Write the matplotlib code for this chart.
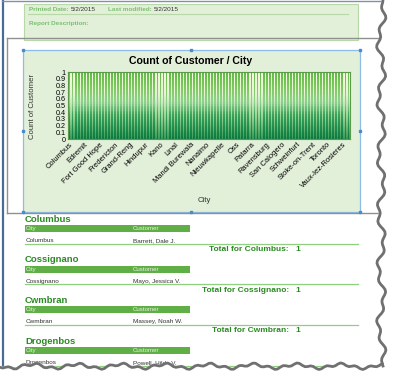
import numpy as np
import matplotlib
matplotlib.use("Agg")
import matplotlib.pyplot as plt
from matplotlib.colors import LinearSegmentedColormap
from matplotlib.patches import Rectangle

plt.rcParams["font.family"] = ["Liberation Sans", "DejaVu Sans"]

# chart data: one customer per city, 93 cities, every 5th city labelled
tick_labels = ["Columbus", "Edremit", "Fort Good Hope", "Fredericton", "Grand-Reng",
               "Hindupur", "Kano", "Linal", "Mandi Burewala", "Nanaimo",
               "Nieuwkapelle", "Oss", "Patarra", "Ravensburg", "San Calogero",
               "Schweinfurt", "Stoke-on-Trent", "Toronto", "Vaux-lez-Rosieres"]
label_step = 5
counts = [1, 1, 1, 1, 1, 1, 1, 1, 1, 1,
          1, 1, 1, 1, 1, 1, 1, 1, 1, 1,
          1, 1, 1, 1, 1, 1, 1, 1, 1, 1,
          1, 1, 1, 1, 1, 1, 1, 1, 1, 1,
          1, 1, 1, 1, 1, 1, 1, 1, 1, 1,
          1, 1, 1, 1, 1, 1, 1, 1, 1, 1,
          1, 1, 1, 1, 1, 1, 1, 1, 1, 1,
          1, 1, 1, 1, 1, 1, 1, 1, 1, 1,
          1, 1, 1, 1, 1, 1, 1, 1, 1, 1,
          1, 1, 1]
y_ticks = [0, 0.1, 0.2, 0.3, 0.4, 0.5, 0.6, 0.7, 0.8, 0.9, 1]

# report groups below the chart
groups = ["Columbus", "Cossignano", "Cwmbran", "Drogenbos"]
customers = ["Barrett, Dale J.", "Mayo, Jessica V.", "Massey, Noah W.", "Powell, Hilda V."]
group_totals = [1, 1, 1, 1]

W, H = 397, 384
fig = plt.figure(figsize=(W / 100, H / 100), dpi=100)
page = fig.add_axes([0, 0, 1, 1])
page.set_xlim(0, W)
page.set_ylim(H, 0)
page.axis("off")

GREEN = "#2a8a22"
LIGHT = "#e2efd9"

# page edges
page.plot([2.5, 2.5], [0, 366], color="#4a6a9a", lw=1.6)
page.plot([2, 385], [0.5, 0.5], color="#8090a8", lw=1)

# header band
page.add_patch(Rectangle((24, 4), 334, 36, facecolor=LIGHT, edgecolor="#b8d8a8", lw=0.8))
page.plot([28, 348], [14, 14], color="#b8d8a8", lw=0.8)
page.text(29, 9.5, "Printed Date:", color="#7cc070", fontsize=4.6, weight="bold", va="center")
page.text(71, 9.5, "5/2/2015", color="#333333", fontsize=4.6, va="center")
page.text(108, 9.5, "Last modified:", color="#7cc070", fontsize=4.6, weight="bold", va="center")
page.text(154, 9.5, "5/2/2015", color="#333333", fontsize=4.6, va="center")
page.text(29, 23, "Report Description:", color="#7cc070", fontsize=4.6, weight="bold", va="center")

# chart frame in the designer
page.plot([7, 395], [38, 38], color="#909090", lw=1)
page.plot([7, 7], [38, 213], color="#909090", lw=1)
page.plot([7, 395], [213, 213], color="#909090", lw=1)
page.add_patch(Rectangle((23, 50), 337, 162, facecolor=LIGHT, edgecolor="#8cbce8", lw=0.9))
for hx, hy in [(23, 50), (191, 50), (360, 50), (23, 131), (360, 131), (23, 212), (191, 212), (360, 212)]:
    page.plot(hx, hy, marker="s", ms=1.5, color="#4a8ad0")

page.text(191, 61, "Count of Customer / City", fontsize=7.6, weight="bold", ha="center", va="center")
page.text(33, 106, "Count of Customer", fontsize=5.6, rotation=90, ha="center", va="center", color="#333333")
page.text(204, 200, "City", fontsize=5.6, ha="center", va="center", color="#333333")

# chart axes
ax = fig.add_axes([68 / W, 1 - 139 / H, 282 / W, 67 / H])
n = len(counts)
x = np.arange(n)
ax.set_xlim(-0.5, n - 0.5)
ax.set_ylim(0, 1)

bg = LinearSegmentedColormap.from_list("bg", ["#3a9a58", "#9ad596", "#e6f4d4", "#f6f9de"])
barmap = LinearSegmentedColormap.from_list(
    "bars", [(0, "#0b7a40"), (0.35, "#35a058"), (0.55, "#8fd290"), (0.75, "#80ca64"), (1, "#5fba46")])
grad = np.linspace(0, 1, 256).reshape(-1, 1)
ax.imshow(grad, cmap=bg, origin="lower", aspect="auto", extent=(-0.5, n - 0.5, 0, 1), zorder=0)

# gradient bars drawn as thin stacked slices of each count
levels = np.linspace(0, 1, 41)
for lo, hi in zip(levels[:-1], levels[1:]):
    seg = np.clip(np.array(counts, dtype=float), lo, hi) - lo
    ax.bar(x, seg, bottom=lo, width=0.62, color=barmap((lo + hi) / 2), lw=0, zorder=2)

for s in ax.spines.values():
    s.set_color("#5a9a4a")
    s.set_linewidth(0.8)

ax.set_yticks(y_ticks)
ax.set_yticklabels([f"{v:g}" for v in y_ticks], fontsize=5.2)
ax.set_xticks(x[::label_step])
ax.set_xticklabels(tick_labels, rotation=45, ha="right", rotation_mode="anchor", fontsize=5.4)
ax.tick_params(length=0, pad=1.5)

# report body
for i, (g, c, t) in enumerate(zip(groups, customers, group_totals)):
    y0 = 219 + i * 40.7
    page.text(25, y0, g, color=GREEN, fontsize=6.8, weight="bold", va="center")
    page.add_patch(Rectangle((25, y0 + 6), 165, 7, facecolor="#5fae46", edgecolor="none"))
    page.text(26, y0 + 9.5, "City", color="#e8f4e0", fontsize=4.4, va="center")
    page.text(133, y0 + 9.5, "Customer", color="#e8f4e0", fontsize=4.4, va="center")
    page.text(26, y0 + 21.5, g, color="#333333", fontsize=4.6, va="center")
    page.text(133, y0 + 21.5, c, color="#333333", fontsize=4.6, va="center")
    page.plot([25, 358], [y0 + 24.5, y0 + 24.5], color="#8fcf80", lw=0.9)
    if i < 3:
        page.text(289, y0 + 30.5, f"Total for {g}:", color=GREEN, fontsize=6, weight="bold",
                  ha="right", va="center")
        page.text(295, y0 + 30.5, str(t), color=GREEN, fontsize=6, weight="bold", va="center")

# torn paper edge
tx = np.linspace(0, 382, 140)
ty = 365 + 2.0 * np.sin(tx / 7.0) + 1.3 * np.sin(tx / 2.3 + 1)
ry = np.linspace(0, 366, 140)
rx = 380 + 3 * np.sin(ry / 9.0) + 2 * np.sin(ry / 3.1 + 2)
page.fill_between(tx, ty, H, color="white", zorder=5)
page.fill_betweenx(ry, rx, W, color="white", zorder=5)
page.plot(tx, ty + 1.2, color="#707070", lw=2, zorder=6)
page.plot(rx + 1.2, ry, color="#707070", lw=2, zorder=6)

fig.savefig("out.png", dpi=100)
